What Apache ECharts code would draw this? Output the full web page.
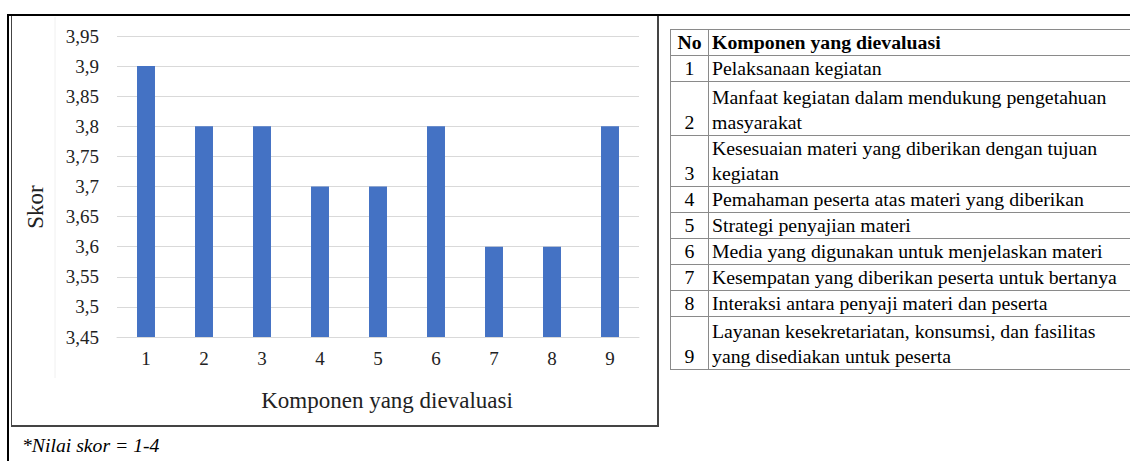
<!DOCTYPE html>
<html><head><meta charset="utf-8">
<script src="https://cdn.jsdelivr.net/npm/echarts@6/dist/echarts.min.js"></script>
<style>
html,body{margin:0;padding:0;background:#fff;width:1130px;height:461px;overflow:hidden;font-family:"Liberation Serif","Times New Roman",serif;}
#chart{position:absolute;left:11px;top:15px;width:647px;height:412px;}
.ln{position:absolute;background:#000;}
#box{position:absolute;left:11px;top:15px;width:645px;height:410px;border-left:1px solid #444;border-right:2px solid #444;border-bottom:2px solid #444;pointer-events:none;}
#tbl{position:absolute;left:670px;top:29px;width:480px;table-layout:fixed;border-collapse:collapse;font-family:"Liberation Serif","Times New Roman",serif;font-size:19.8px;color:#000;}
#tbl td,#tbl th{border:1px solid #8a8a8a;padding:0 3px;line-height:25px;white-space:nowrap;vertical-align:bottom;text-align:left;overflow:visible;}
#tbl td.no,#tbl th.no{text-align:center;padding:0;}
#tbl th{font-weight:bold;}
#note{position:absolute;left:22px;top:433px;font-family:"Liberation Serif","Times New Roman",serif;font-size:19.7px;font-style:italic;line-height:24px;color:#000;}
</style></head>
<body>
<div id="chart"></div>
<div id="box"></div>
<div class="ln" style="left:7px;top:14px;width:1123px;height:2px;"></div>
<div class="ln" style="left:7px;top:14px;width:2px;height:447px;"></div>
<table id="tbl"><colgroup><col style="width:38px"><col style="width:442px"></colgroup><tbody id="tb"></tbody></table>
<div id="note">*Nilai skor = 1-4</div>
<script>
const categories = ['1','2','3','4','5','6','7','8','9'];
const scores = [3.9, 3.8, 3.8, 3.7, 3.7, 3.8, 3.6, 3.6, 3.8];
const tableHeader = ['No', 'Komponen yang dievaluasi'];
const components = [
  'Pelaksanaan kegiatan',
  'Manfaat kegiatan dalam mendukung pengetahuan\nmasyarakat',
  'Kesesuaian materi yang diberikan dengan tujuan\nkegiatan',
  'Pemahaman peserta atas materi yang diberikan',
  'Strategi penyajian materi',
  'Media yang digunakan untuk menjelaskan materi',
  'Kesempatan yang diberikan peserta untuk bertanya',
  'Interaksi antara penyaji materi dan peserta',
  'Layanan kesekretariatan, konsumsi, dan fasilitas\nyang disediakan untuk peserta'
];
const yAxisTitle = 'Skor';
const xAxisTitle = 'Komponen yang dievaluasi';

// table
const rowHeights = [24, 25, 54, 50, 24, 23, 26, 25, 24, 53];
const tb = document.getElementById('tb');
let html = '<tr style="height:'+rowHeights[0]+'px"><th class="no">'+tableHeader[0]+'</th><th>'+tableHeader[1]+'</th></tr>';
components.forEach((c, i) => {
  html += '<tr style="height:'+rowHeights[i+1]+'px"><td class="no">'+categories[i]+'</td><td>'+c.replace('\n','<br>')+'</td></tr>';
});
tb.innerHTML = html;

const chart = echarts.init(document.getElementById('chart'), null, {renderer:'svg'});
const fontFam = '"Liberation Serif","Times New Roman",serif';
chart.setOption({
  animation:false,
  grid:{left:106,right:19,top:21,bottom:90},
  xAxis:{
    type:'category', data:categories,
    axisLine:{show:true,lineStyle:{color:'#d9d9d9',width:1}},
    axisTick:{show:false},
    axisLabel:{fontFamily:fontFam,fontSize:19,color:'#222',margin:12}
  },
  yAxis:{
    type:'value', min:3.45, max:3.95, interval:0.05,
    axisLine:{show:false}, axisTick:{show:false},
    splitLine:{lineStyle:{color:'#d9d9d9',width:1}},
    axisLabel:{fontFamily:fontFam,fontSize:19,color:'#222',margin:18,
      formatter:v=>parseFloat(v.toFixed(2)).toString().replace('.',',')}
  },
  series:[{type:'bar',data:scores,barWidth:'31%',itemStyle:{color:'#4472C4'}}],
  graphic:[
    {type:'line',shape:{x1:44,y1:2,x2:44,y2:363},style:{stroke:'#f0f0f0',lineWidth:1},silent:true},
    {type:'text',x:24,y:192,rotation:Math.PI/2,style:{text:yAxisTitle,fontFamily:fontFam,fontSize:23,fill:'#222',align:'center',verticalAlign:'middle'}},
    {type:'text',x:376,y:385,style:{text:xAxisTitle,fontFamily:fontFam,fontSize:23,fill:'#222',align:'center',verticalAlign:'middle'}}
  ]
});
</script>
</body></html>
